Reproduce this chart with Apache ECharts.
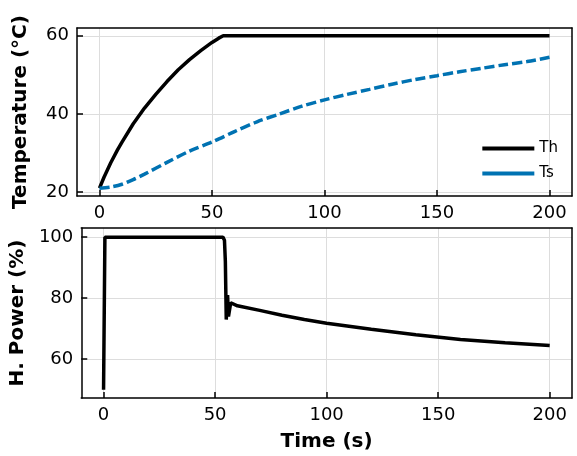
<!DOCTYPE html><html><head><meta charset="utf-8"><script src="https://cdn.jsdelivr.net/npm/echarts@6/dist/echarts.min.js"></script></head><body style="margin:0"><div id="c" style="width:577px;height:456px"></div><script>
const thT=[0,2,5,8,10,15,20,25,30,35,40,45,50,53,55,100,150,200];
const thV=[21,23.8,27.5,30.8,32.8,37.5,41.5,45,48.3,51.3,53.9,56.2,58.3,59.4,60,60,60,60];
const tsT=[0,5,10,15,20,30,40,50,60,70,80,90,100,110,120,130,140,150,160,170,180,190,200];
const tsV=[21,21.3,22,23.2,24.6,27.6,30.5,32.8,35.5,38,40,42,43.6,45,46.3,47.6,48.8,49.8,50.8,51.7,52.6,53.4,54.5];
const pT=[0,0.3,0.6,10,30,53.5,54.2,54.6,55,55.2,55.6,56,57,60,70,80,90,100,120,140,160,180,200];
const pV=[50,50,100,100,100,100,99,92,73,76,81,74,78.5,77.5,76,74.4,73,71.8,69.8,68,66.5,65.4,64.5];
const zip=(a,b)=>a.map((x,i)=>[x,b[i]]);
const F='DejaVu Sans';
const tk=v=>({show:true,inside:true,length:6,lineStyle:{color:'#000',width:1.5},customValues:v});
const lbl=v=>({color:'#000',fontSize:18,fontFamily:F,customValues:v});
const line={show:true,onZero:false,lineStyle:{color:'#000',width:1.5}};
const nm={fontSize:20,fontWeight:'bold',fontFamily:F,color:'#000'};
const xv=[0,50,100,150,200];
const xa=(i,name)=>Object.assign({type:'value',gridIndex:i,min:-10,max:210,position:'bottom',axisLine:line,axisTick:tk(xv),axisLabel:lbl(xv),splitLine:{show:true,lineStyle:{color:'#ddd'}}},name?{name,nameLocation:'middle',nameGap:34,nameTextStyle:nm}:{});
const ya=(i,min,max,v,name)=>({type:'value',gridIndex:i,min,max,position:'left',axisLine:line,axisTick:tk(v),axisLabel:lbl(v),splitLine:{show:true,lineStyle:{color:'#ddd'}},name,nameLocation:'middle',nameGap:46,nameTextStyle:nm});
const bx=i=>({type:'value',gridIndex:i,min:-10,max:210,position:'top',axisLine:line,axisTick:{show:false},axisLabel:{show:false},splitLine:{show:false}});
const by=(i,min,max)=>({type:'value',gridIndex:i,min,max,position:'right',axisLine:line,axisTick:{show:false},axisLabel:{show:false},splitLine:{show:false}});
echarts.init(document.getElementById('c')).setOption({animation:false,
grid:[{left:77,top:28,width:495,height:168},{left:77,top:228,width:495,height:170}],
xAxis:[xa(0),xa(1,'Time (s)'),bx(0),bx(1)],
yAxis:[ya(0,19,62,[20,40,60],'Temperature (°C)'),ya(1,47.3,103,[60,80,100],'H. Power (%)'),by(0,19,62),by(1,47.3,103)],
legend:{right:14,top:136,orient:'vertical',itemWidth:52,itemHeight:4,itemGap:10,icon:'rect',textStyle:{fontSize:15,fontFamily:F,color:'#000'},data:['Th','Ts']},
series:[
{name:'Th',type:'line',showSymbol:false,data:zip(thT,thV),lineStyle:{color:'#000',width:3.5},itemStyle:{color:'#000'},xAxisIndex:0,yAxisIndex:0},
{name:'Ts',type:'line',showSymbol:false,data:zip(tsT,tsV),lineStyle:{color:'#0072B2',width:3.5,type:[10,4]},itemStyle:{color:'#0072B2'},smooth:0.3,xAxisIndex:0,yAxisIndex:0},
{name:'P',type:'line',showSymbol:false,data:zip(pT,pV),lineStyle:{color:'#000',width:3.5},xAxisIndex:1,yAxisIndex:1}
]});
</script></body></html>
